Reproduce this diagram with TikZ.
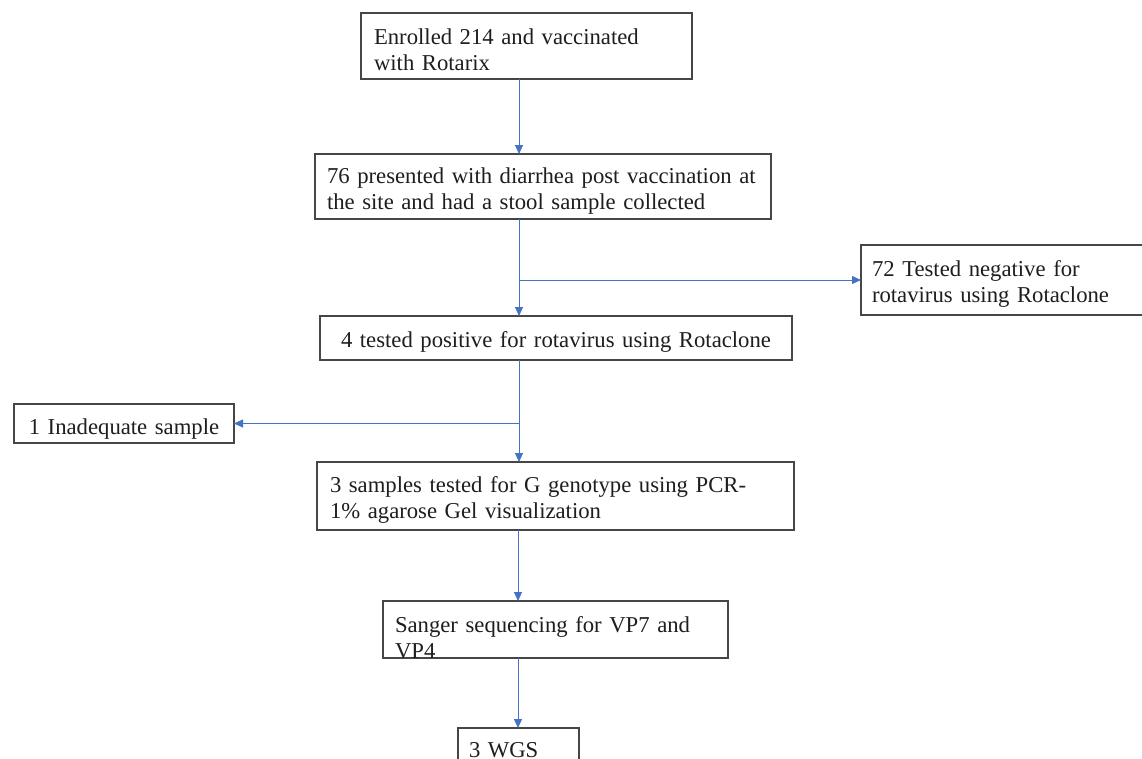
\documentclass[tikz,border=0pt]{standalone}
\usepackage{fontspec}
\setmainfont{Liberation Serif}
\usetikzlibrary{arrows.meta}
\definecolor{connblue}{RGB}{68,114,196}
\definecolor{boxgray}{RGB}{70,70,70}
\definecolor{txt}{RGB}{30,30,30}
\begin{document}
\begin{tikzpicture}[x=1pt,y=-1pt,
  box/.style={draw=boxgray, line width=1.2pt, rectangle, inner ysep=0pt, outer sep=0pt,
    anchor=base west, align=left, text=txt,
    font=\fontsize{22.7}{26}\selectfont},
  cbox/.style={box, align=center},
  conn/.style={draw=connblue, line width=0.9pt, -{Triangle[length=9pt,width=8pt]}}]
\clip (0,0) rectangle (1142,758);
\fill[white] (0,0) rectangle (1142,758);

\node[box, inner xsep=13pt, text width=305pt, text height=31pt, text depth=35pt] (b1) at (361,44)
  {Enrolled 214 and vaccinated\\with Rotarix};
\node[box, inner xsep=12pt, text width=432pt, text height=29pt, text depth=36pt] (b2) at (315,183)
  {\mbox{76 presented with diarrhea post vaccination at}\\the site and had a stool sample collected};
\node[box, inner xsep=11pt, text width=278pt, text height=31pt, text depth=39pt] (b3) at (861,276)
  {72 Tested negative for\\rotavirus using Rotaclone};
\node[cbox, inner xsep=10pt, text width=452pt, text height=31pt, text depth=13pt] (b4) at (320,347)
  {4 tested positive for rotavirus using Rotaclone};
\node[cbox, inner xsep=5pt, text width=210pt, text height=30pt, text depth=9pt] (b5) at (14,434)
  {1 Inadequate sample};
\node[box, inner xsep=13pt, text width=451pt, text height=30pt, text depth=38pt] (b6) at (317,492)
  {\mbox{3 samples tested for G genotype using PCR-}\\1\% agarose Gel visualization};
\node[box, inner xsep=12pt, text width=321pt, text height=31pt, text depth=26pt] (b7) at (383,632)
  {\mbox{Sanger sequencing for VP7 and}\\VP4};
\node[box, inner xsep=11pt, text width=99pt, text height=29pt, text depth=40pt] (b8) at (458,757)
  {3 WGS};

\coordinate (spine) at (519,0);
\coordinate (spineb) at (518,0);
\coordinate (j1) at (spine |- b3.west);
\coordinate (j2) at (spine |- b5.east);

\draw[conn] (b1.south -| spine) -- (b2.north -| spine);
\draw[conn] (b2.south -| spine) -- (b4.north -| spine);
\draw[conn] (j1) -- (b3.west);
\draw[conn] (b4.south -| spine) -- (b6.north -| spine);
\draw[conn] (j2) -- (b5.east);
\draw[conn] (b6.south -| spineb) -- (b7.north -| spineb);
\draw[conn] (b7.south -| spineb) -- (b8.north -| spineb);
\end{tikzpicture}
\end{document}
